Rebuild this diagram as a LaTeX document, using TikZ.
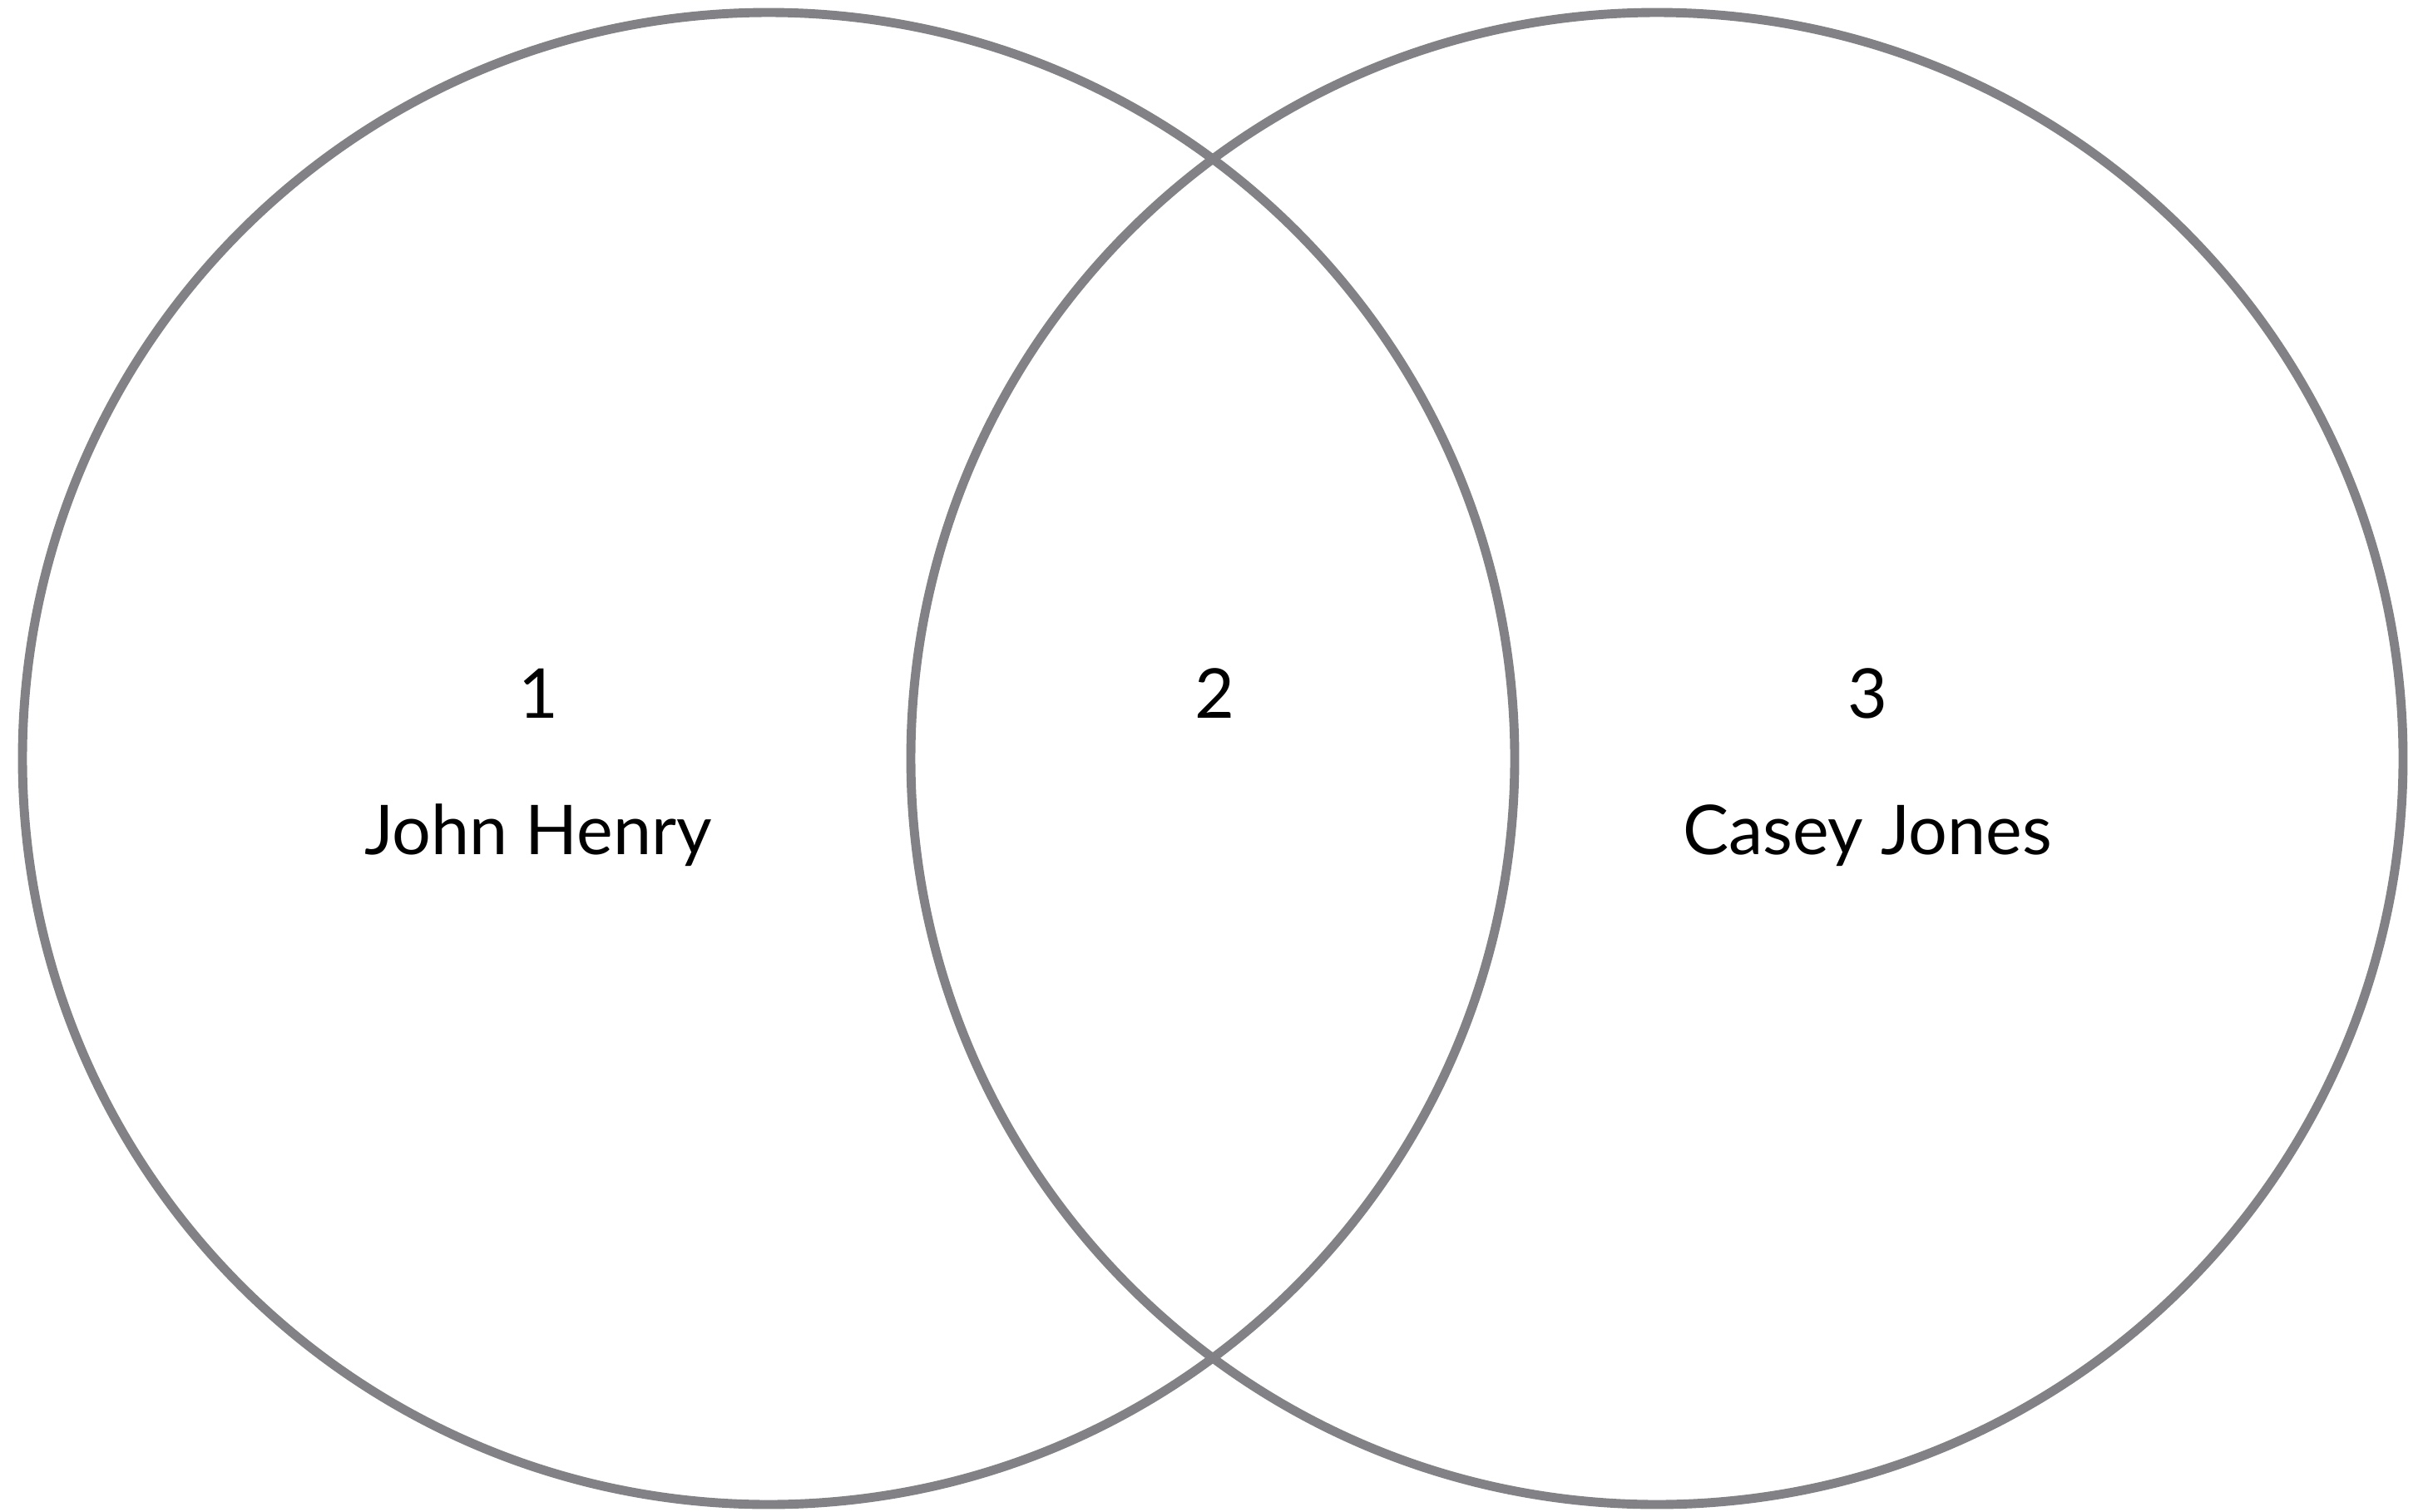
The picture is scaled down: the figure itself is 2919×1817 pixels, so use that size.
\documentclass[tikz,border=0pt]{standalone}
\usepackage{fontspec}
\setmainfont{Lato}
\usepackage{xcolor}
\usetikzlibrary{positioning}
\definecolor{ringgray}{RGB}{130,130,134}

\tikzset{
  ring/.style={draw=ringgray, line width=3.1pt},
  label/.style={anchor=base, inner sep=0pt, font=\fontsize{23.5}{28}\selectfont}
}

\begin{document}
\begin{tikzpicture}[x=0.1mm, y=-0.1mm]
  \useasboundingbox (0,0) rectangle (2919,1817);

  % the two sets
  \draw[ring] (924,912) circle[radius=89.7mm];
  \draw[ring] (1992,912) circle[radius=89.7mm];

  % region numbers
  \node[label] (one) at (647,863) {1};
  \node[label] (two) at (1460,863) {2};
  \node[label] (three) at (2245,863) {3};

  % names
  \node[label] (henry) at (647,1027) {John Henry};
  \node[label] (casey) at (2245,1027) {Casey Jones};
\end{tikzpicture}
\end{document}
